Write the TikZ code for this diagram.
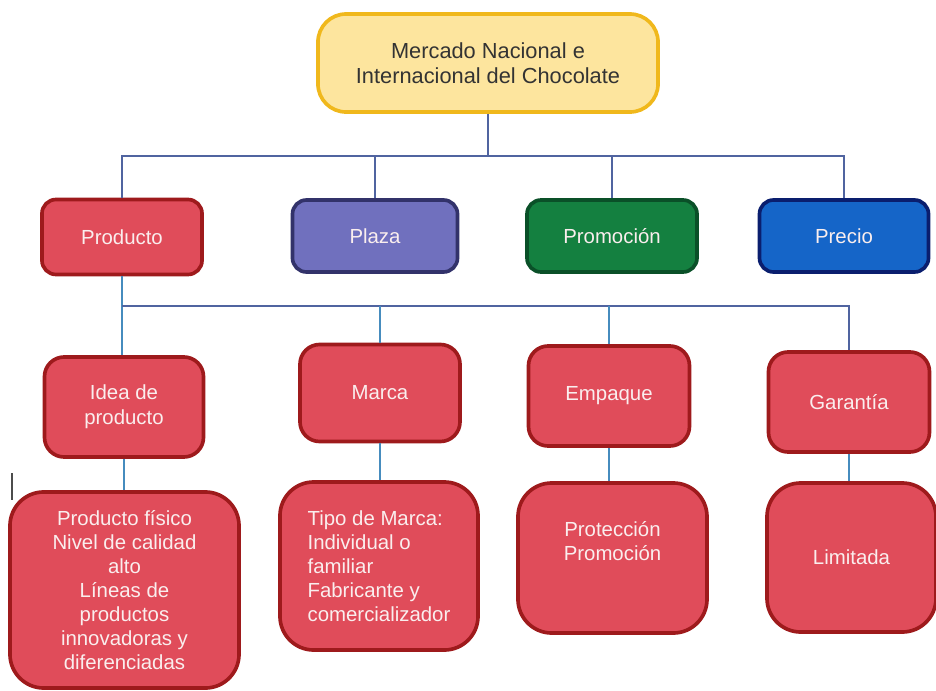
\documentclass[tikz,border=0pt]{standalone}
\usepackage{fontspec}
\setmainfont{Liberation Sans}
\usetikzlibrary{positioning}

\definecolor{topfill}{HTML}{FDE59E}
\definecolor{topdraw}{HTML}{F0B81C}
\definecolor{redfill}{HTML}{E04C5A}
\definecolor{reddraw}{HTML}{9E1A1C}
\definecolor{plazafill}{HTML}{7070BE}
\definecolor{plazadraw}{HTML}{32326A}
\definecolor{promofill}{HTML}{148040}
\definecolor{promodraw}{HTML}{0A5028}
\definecolor{preciofill}{HTML}{1565C8}
\definecolor{preciodraw}{HTML}{0A1E6E}
\definecolor{busline}{HTML}{5064A0}
\definecolor{subline}{HTML}{468CBE}
\definecolor{softwhite}{HTML}{FAEEEE}

\begin{document}
\begin{tikzpicture}[
    x=0.025cm, y=-0.025cm,
    box/.style={line width=2.6pt, align=center, text=softwhite, inner sep=2pt,
        font=\fontsize{14.5}{17}\selectfont},
    topbox/.style={box, fill=topfill, draw=topdraw, text=black!80, rounded corners=20pt,
        font=\fontsize{15.5}{18}\selectfont, minimum width=8.5cm, minimum height=2.45cm},
    mixbox/.style={box, rounded corners=10pt, minimum height=1.8cm},
    redbox/.style={box, fill=redfill, draw=reddraw},
    bigbox/.style={redbox, rounded corners=24pt},
    link/.style={line width=1pt, draw=subline}
]
    \useasboundingbox (0,0) rectangle (936,691);

    % === Top ===
    \node[topbox] (mercado) at (488,63) {Mercado Nacional e\\Internacional del Chocolate};

    % === Marketing mix ===
    \node[mixbox, redbox, rounded corners=10pt, minimum width=4cm, minimum height=1.875cm] (producto) at (122,237) {Producto};
    \node[mixbox, fill=plazafill, draw=plazadraw, minimum width=4.125cm] (plaza) at (375,236) {Plaza};
    \node[mixbox, fill=promofill, draw=promodraw, minimum width=4.25cm] (promocion) at (612,236) {Promoción};
    \node[mixbox, fill=preciofill, draw=preciodraw, minimum width=4.225cm] (precio) at (844,236) {Precio};

    % === Producto ===
    \node[redbox, rounded corners=14pt, minimum width=3.975cm, minimum height=2.5cm,
        font=\fontsize{14.5}{18}\selectfont] (idea) at (124,407) {Idea de\\producto};
    \node[redbox, rounded corners=14pt, minimum width=4cm, minimum height=2.425cm] (marca) at (380,393) {Marca};
    \node[redbox, rounded corners=14pt, minimum width=4.025cm, minimum height=2.5cm] (empaque) at (609,396) {Empaque};
    \node[redbox, rounded corners=14pt, minimum width=4.025cm, minimum height=2.5cm] (garantia) at (849,402) {Garantía};

    % === Detalle ===
    \node[bigbox, minimum width=5.725cm, minimum height=4.9cm] (fisico) at (124.5,590)
        {Producto físico\\Nivel de calidad\\alto\\Líneas de\\productos\\innovadoras y\\diferenciadas};
    \node[bigbox, minimum width=4.95cm, minimum height=4.2cm, align=left] (tipo) at (379,566)
        {Tipo de Marca:\\Individual o\\familiar\\Fabricante y\\comercializador};
    \node[bigbox, minimum width=4.725cm, minimum height=3.75cm] (proteccion) at (612.5,558)
        {Protección\\Promoción\\[0.25cm]};
    \node[bigbox, minimum width=4.225cm, minimum height=3.725cm] (limitada) at (851.5,557.5) {Limitada};

    % Connectors
    \coordinate (busA) at (488,156);
    \coordinate (busB) at (122,306);
    \draw[link, draw=busline] (mercado.south) -- (busA);
    \draw[link, draw=busline] (producto.north) |- (busA) -| (precio.north);
    \draw[link, draw=busline] (plaza.north) -- (plaza.north |- busA);
    \draw[link, draw=busline] (promocion.north) -- (promocion.north |- busA);

    \draw[link] (producto.south) -- (producto.south |- idea.north);
    \draw[link, draw=busline] (busB) -| (garantia.north);
    \draw[link] (marca.north) -- (marca.north |- busB);
    \draw[link] (empaque.north) -- (empaque.north |- busB);

    \draw[link] (idea.south) -- (idea.south |- fisico.north);
    \draw[link] (marca.south) -- (marca.south |- tipo.north);
    \draw[link] (empaque.south) -- (empaque.south |- proteccion.north);
    \draw[link] (garantia.south) -- (garantia.south |- limitada.north);

    % stray mark
    \draw[black!70, line width=0.8pt] (12,473) -- (12,500);
\end{tikzpicture}
\end{document}
